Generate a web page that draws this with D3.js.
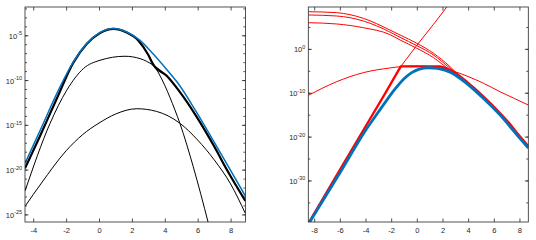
<!DOCTYPE html>
<html>
<head>
<meta charset="utf-8">
<script src="https://cdn.jsdelivr.net/npm/d3@7"></script>
<style>
  body { margin: 0; background: #fff; }
  svg { display: block; font-family: "Liberation Sans", Arial, sans-serif; }
</style>
</head>
<body>
<svg width="536" height="240"></svg>
<script>
// values, y stored as log10
var leftXTicks = [-4, -2, 0, 2, 4, 6, 8];
var leftYMinor = d3.range(-25, -1);
var leftYMajor = [-25, -20, -15, -10, -5];

var leftExact = [[-4.5,-19.3],[-3.6,-15.7],[-2.37,-10.76],[-1.56,-7.98],[-0.75,-5.93],[0.06,-4.7],[0.87,-4.25],[1.68,-4.63],[2.49,-5.56],[3.3,-7.1],[4.1,-8.8],[4.9,-10.6],[5.9,-13.5],[7.4,-18.2],[8.9,-22.95]];
var leftSum = [[-4.5,-19.86],[-3.6,-16.3],[-2.6,-12.2],[-1.56,-8.05],[-0.75,-5.97],[0.06,-4.74],[0.87,-4.28],[1.68,-4.68],[2.4,-5.6],[3.0,-7.2],[3.3,-8.3],[4.1,-9.5],[4.9,-11.3],[5.9,-14.0],[7.0,-17.4],[7.8,-20.1],[8.9,-23.5]];
var leftTermA = [[-4.5,-19.86],[-3.6,-16.3],[-2.6,-12.2],[-1.56,-8.05],[-0.75,-5.97],[0.06,-4.74],[0.87,-4.28],[1.68,-4.68],[2.4,-5.6],[3.25,-8.0],[4.0,-10.6],[4.62,-13.36],[4.92,-14.85],[5.73,-19.68],[6.65,-26.0],[6.9,-27.8]];
var leftTermB = [[-4.5,-22.4],[-2.98,-14.85],[-1.96,-11.13],[-0.95,-8.72],[0.06,-7.79],[1.58,-7.34],[2.49,-7.6],[3.3,-8.34],[4.1,-9.5],[4.9,-11.3],[5.9,-14.0],[7.0,-17.4],[7.8,-20.1],[8.9,-23.5]];
var leftTermC = [[-4.5,-24.1],[-3.5,-21.5],[-2,-17.9],[-1,-16.1],[0,-14.8],[1,-13.8],[2.3,-13.2],[3.5,-13.5],[4.9,-14.8],[6,-16.7],[7,-18.9],[8,-21.6],[8.9,-24.9]];

var rightXTicks = [-8, -6, -4, -2, 0, 2, 4, 6, 8];
var rightYMinor = [-35, -30, -25, -20, -15, -10, -5, 0, 5];
var rightYMajor = [-30, -20, -10, 0];

var rightExact = [[-8.46,-40.0],[-6,-28.3],[-4,-18.6],[-3,-14.4],[-2.3,-11.5],[-1.6,-8.8],[-1,-6.8],[-0.4,-5.4],[0.2,-4.6],[0.9,-4.3],[1.6,-4.45],[2.6,-5.3],[3.9,-7.9],[5.2,-11.3],[6.5,-15.1],[7.8,-19.6],[8.69,-22.6]];
var rightBest = [[-8.46,-39.8],[-6,-27.6],[-4,-17.7],[-2.5,-10.3],[-1.25,-4.0],[1.8,-4.0],[2.3,-4.4],[2.7,-5.0],[3.2,-5.9],[3.9,-7.5],[4.5,-9.0],[5.2,-10.9],[5.8,-12.6],[6.5,-14.7],[7.2,-16.9],[7.8,-19.1],[8.69,-22.2]];
var rightLeftTail = [[-8.46,-39.8],[-6,-27.6],[-4,-17.7],[-2.5,-10.3],[-1.25,-4.0],[0,0.8],[1.3,5.6],[2.4,9.8]];
var rightCentral = [[-8.46,-10.6],[-6.24,-7.47],[-4.17,-5.42],[-2.1,-4.35],[-1.25,-4.05],[-0.3,-3.93],[0.6,-3.95],[1.5,-4.15],[2.2,-4.55],[2.98,-5.2],[4.0,-6.3],[5.2,-7.84],[6.48,-9.76],[7.6,-11.3],[8.69,-12.8]];
var rightTailA = [[-8.46,8.48],[-6.24,8.25],[-4.17,6.97],[-2.1,4.31],[-1.31,3.17],[0,1.28],[1.3,-1.0],[2.59,-4.06],[3.1,-5.5],[3.9,-7.45],[5.2,-10.85],[6.5,-14.65],[7.8,-19.1],[8.69,-22.15]];
var rightTailB = [[-8.46,7.73],[-6.24,7.5],[-4.17,6.36],[-2.1,3.85],[-1.31,2.64],[0,0.73],[1.3,-1.39],[2.59,-4.42],[3.1,-5.6],[3.9,-7.5],[5.2,-10.9],[6.5,-14.7],[7.8,-19.15],[8.69,-22.2]];
var rightTailC = [[-8.46,5.97],[-6.24,5.68],[-4.17,4.83],[-2.1,3.26],[-1.31,2.03],[0,0.14],[1.3,-2.0],[2.59,-4.81],[3.1,-5.7],[3.9,-7.55],[5.2,-10.95],[6.5,-14.75],[7.8,-19.2],[8.69,-22.25]];

var axisColor = '#262626',
    blue = '#0072bd',
    red = '#ff0000';

var svg = d3.select('svg');

// left panel scales
var lx = d3.scaleLinear().domain([-4.5, 8.9]).range([25, 245.4]),
    ly = d3.scaleLog().domain([Math.pow(10, -25.85), Math.pow(10, -1.84)]).range([222, 7]);
// right panel scales
var rx = d3.scaleLinear().domain([-8.46, 8.69]).range([308.3, 528.3]),
    ry = d3.scaleLog().domain([Math.pow(10, -39.47), Math.pow(10, 9.55)]).range([222, 7]);

function drawAxes(g, x, y, xt, yMinor, yMajor) {
    var x0 = x.range()[0], x1 = x.range()[1],
        yb = y.range()[0], yt = y.range()[1];

    var bottom = g.append('g').attr('transform', 'translate(0,' + yb + ')')
        .call(d3.axisBottom(x).tickValues(xt).tickSize(-3.5).tickSizeOuter(0)
              .tickPadding(5.5).tickFormat(function(d) { return String(d); }));
    var top = g.append('g').attr('transform', 'translate(0,' + yt + ')')
        .call(d3.axisTop(x).tickValues(xt).tickSize(-3.5).tickSizeOuter(0).tickFormat(''));

    var pw = function(e) { return Math.pow(10, e); };
    var minorL = g.append('g').attr('transform', 'translate(' + x0 + ',0)')
        .call(d3.axisLeft(y).tickValues(yMinor.map(pw)).tickSize(-2).tickSizeOuter(0).tickFormat(''));
    var minorR = g.append('g').attr('transform', 'translate(' + x1 + ',0)')
        .call(d3.axisRight(y).tickValues(yMinor.map(pw)).tickSize(-2).tickSizeOuter(0).tickFormat(''));
    var majorL = g.append('g').attr('transform', 'translate(' + x0 + ',0)')
        .call(d3.axisLeft(y).tickValues(yMajor.map(pw)).tickSize(-3.5).tickSizeOuter(0).tickFormat(''));
    var majorR = g.append('g').attr('transform', 'translate(' + x1 + ',0)')
        .call(d3.axisRight(y).tickValues(yMajor.map(pw)).tickSize(-3.5).tickSizeOuter(0).tickFormat(''));

    [bottom, top, minorL, minorR, majorL, majorR].forEach(function(a) {
        a.select('.domain').remove();
        a.selectAll('.tick line').attr('stroke', axisColor).attr('stroke-width', 0.8);
        a.attr('font-family', null).attr('font-size', 7.5);
        a.selectAll('text').attr('fill', axisColor);
    });

    // 10^n labels
    var lab = g.selectAll('.ylab').data(yMajor).enter().append('text')
        .attr('class', 'ylab')
        .attr('x', x0 - 3)
        .attr('y', function(d) { return y(pw(d)) + 3.5; })
        .attr('text-anchor', 'end')
        .attr('font-size', 7.5)
        .attr('fill', axisColor);
    lab.append('tspan').text('10');
    lab.append('tspan').attr('dy', -3.6).attr('font-size', 5.4).text(function(d) { return String(d); });

    g.append('rect')
        .attr('x', x0).attr('y', yt)
        .attr('width', x1 - x0).attr('height', yb - yt)
        .attr('fill', 'none').attr('stroke', axisColor).attr('stroke-width', 0.8);
}

function clip(id, x, y) {
    svg.append('clipPath').attr('id', id).append('rect')
        .attr('x', x.range()[0]).attr('y', y.range()[1])
        .attr('width', x.range()[1] - x.range()[0])
        .attr('height', y.range()[0] - y.range()[1]);
}

function curveLine(x, y, curve) {
    return d3.line()
        .x(function(d) { return x(d[0]); })
        .y(function(d) { return y(Math.pow(10, d[1])); })
        .curve(curve);
}

clip('clipL', lx, ly);
clip('clipR', rx, ry);

// left panel
var gl = svg.append('g');
var linesL = gl.append('g').attr('clip-path', 'url(#clipL)');
var smoothL = curveLine(lx, ly, d3.curveMonotoneX);
[leftTermA, leftTermB, leftTermC].forEach(function(s) {
    linesL.append('path').attr('d', smoothL(s)).attr('fill', 'none')
        .attr('stroke', '#000').attr('stroke-width', 1);
});
linesL.append('path').attr('d', smoothL(leftSum)).attr('fill', 'none')
    .attr('stroke', '#000').attr('stroke-width', 2.2);
linesL.append('path').attr('d', smoothL(leftExact)).attr('fill', 'none')
    .attr('stroke', blue).attr('stroke-width', 1.5);
drawAxes(gl, lx, ly, leftXTicks, leftYMinor, leftYMajor);

// right panel
var gr = svg.append('g');
var linesR = gr.append('g').attr('clip-path', 'url(#clipR)');
var smoothR = curveLine(rx, ry, d3.curveMonotoneX),
    straightR = curveLine(rx, ry, d3.curveLinear);
[rightTailA, rightTailB, rightTailC, rightCentral].forEach(function(s) {
    linesR.append('path').attr('d', smoothR(s)).attr('fill', 'none')
        .attr('stroke', red).attr('stroke-width', 1);
});
linesR.append('path').attr('d', straightR(rightLeftTail)).attr('fill', 'none')
    .attr('stroke', red).attr('stroke-width', 1);
linesR.append('path').attr('d', straightR(rightBest)).attr('fill', 'none')
    .attr('stroke', red).attr('stroke-width', 2.3).attr('stroke-linejoin', 'round');
linesR.append('path').attr('d', smoothR(rightExact)).attr('fill', 'none')
    .attr('stroke', blue).attr('stroke-width', 2.8);
drawAxes(gr, rx, ry, rightXTicks, rightYMinor, rightYMajor);
</script>
</body>
</html>
